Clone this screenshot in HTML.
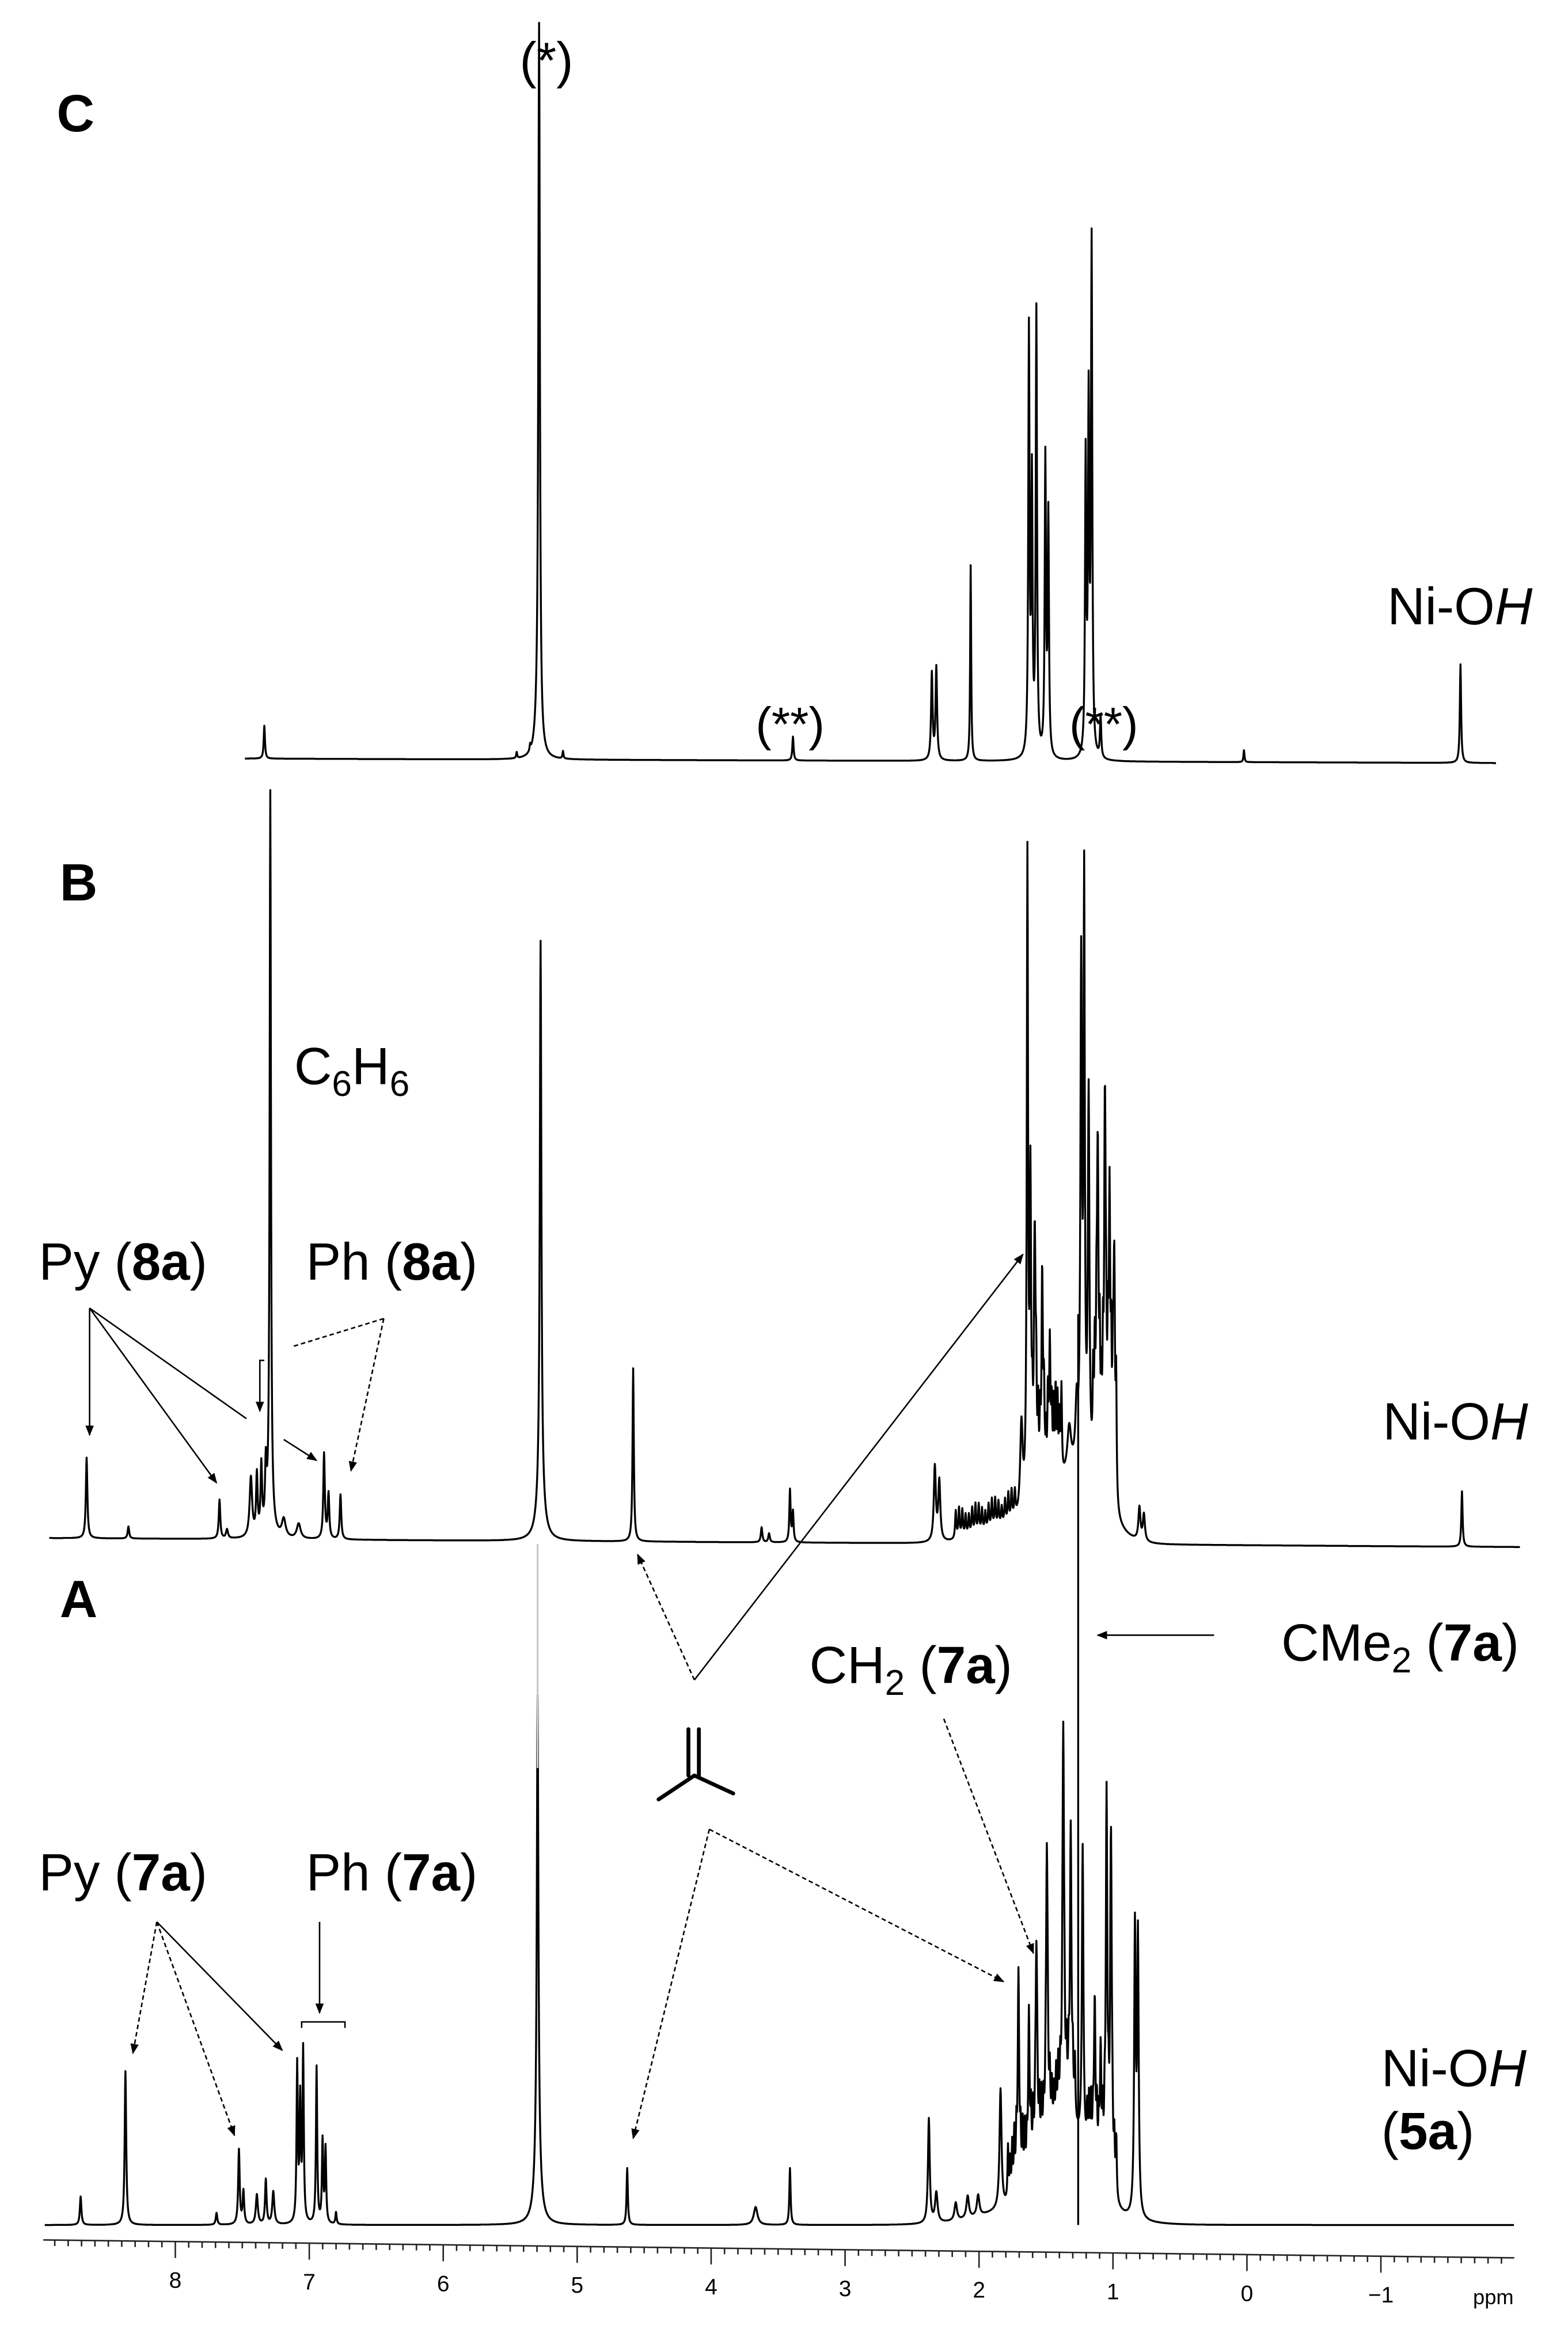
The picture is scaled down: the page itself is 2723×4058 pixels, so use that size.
<!DOCTYPE html>
<html><head><meta charset="utf-8">
<style>
html,body{margin:0;padding:0;background:#fff;}
svg{display:block;}
text{font-family:"Liberation Sans",Arial,sans-serif;fill:#000;}
</style></head>
<body>
<svg id="s" width="2723" height="4058" viewBox="0 0 1050 1565" preserveAspectRatio="none" xmlns="http://www.w3.org/2000/svg">
<defs>
<marker id="ar" viewBox="0 0 10 10" refX="9" refY="5" markerWidth="7" markerHeight="7" markerUnits="userSpaceOnUse" orient="auto">
<path d="M0,1 L10,5 L0,9 z" fill="#000"/></marker>
</defs>
<rect width="1050" height="1565" fill="#fff"/>
<g id="spec" fill="none" stroke="#000" stroke-width="1.3" stroke-linejoin="round"></g>

<line x1="360" y1="1184" x2="360" y2="1034" stroke="#c8c8c8" stroke-width="1.2"/>
<line x1="722" y1="1490" x2="722" y2="880" stroke="#000" stroke-width="1.3"/>

<g id="axis" stroke="#222" stroke-width="1"></g>

<g font-size="35">
<text x="38" y="88" font-weight="bold">C</text>
<text x="348" y="52" font-size="34">(*)</text>
<text x="506" y="496" font-size="32">(**)</text>
<text x="716" y="496" font-size="32">(**)</text>
<text x="929" y="418">Ni-O<tspan font-style="italic">H</tspan></text>

<text x="40" y="603" font-weight="bold">B</text>
<text x="197" y="726">C<tspan font-size="24" dy="8">6</tspan><tspan dy="-8">H</tspan><tspan font-size="24" dy="8">6</tspan></text>
<text x="26" y="857">Py (<tspan font-weight="bold">8a</tspan>)</text>
<text x="205" y="857">Ph (<tspan font-weight="bold">8a</tspan>)</text>
<text x="926" y="964">Ni-O<tspan font-style="italic">H</tspan></text>

<text x="40" y="1083" font-weight="bold">A</text>
<text x="858" y="1112">CMe<tspan font-size="24" dy="8">2</tspan><tspan dy="-8"> (</tspan><tspan font-weight="bold">7a</tspan>)</text>
<text x="542" y="1127">CH<tspan font-size="24" dy="8">2</tspan><tspan dy="-8"> (</tspan><tspan font-weight="bold">7a</tspan>)</text>
<text x="26" y="1266">Py (<tspan font-weight="bold">7a</tspan>)</text>
<text x="205" y="1266">Ph (<tspan font-weight="bold">7a</tspan>)</text>
<text x="925" y="1397">Ni-O<tspan font-style="italic">H</tspan></text>
<text x="925" y="1439">(<tspan font-weight="bold">5a</tspan>)</text>
</g>

<g stroke="#000" stroke-width="1" fill="none">
<line x1="60" y1="876" x2="60" y2="961" marker-end="url(#ar)"/>
<line x1="60" y1="876" x2="145" y2="993" marker-end="url(#ar)"/>
<line x1="60" y1="876" x2="165" y2="950"/>
<polyline points="177,911 174,911 174,945" marker-end="url(#ar)"/>
<line x1="257" y1="883" x2="195" y2="902" stroke-dasharray="3,2"/>
<line x1="257" y1="883" x2="235" y2="985" stroke-dasharray="3,2" marker-end="url(#ar)"/>
<line x1="190" y1="964" x2="212" y2="978" marker-end="url(#ar)"/>
<line x1="465" y1="1125" x2="427" y2="1041" stroke-dasharray="3,2" marker-end="url(#ar)"/>
<line x1="465" y1="1125" x2="685" y2="840" marker-end="url(#ar)"/>
<line x1="475" y1="1225" x2="424" y2="1432" stroke-dasharray="3,2" marker-end="url(#ar)"/>
<line x1="475" y1="1225" x2="672" y2="1327" stroke-dasharray="3,2" marker-end="url(#ar)"/>
<line x1="813" y1="1095" x2="735" y2="1095" marker-end="url(#ar)"/>
<line x1="632" y1="1151" x2="692" y2="1308" stroke-dasharray="3,2" marker-end="url(#ar)"/>
<line x1="105" y1="1287" x2="89" y2="1375" stroke-dasharray="3,2" marker-end="url(#ar)"/>
<line x1="105" y1="1287" x2="157" y2="1430" stroke-dasharray="3,2" marker-end="url(#ar)"/>
<line x1="105" y1="1287" x2="189" y2="1373" marker-end="url(#ar)"/>
<line x1="214" y1="1287" x2="214" y2="1348" marker-end="url(#ar)"/>
<polyline points="202,1358 202,1354 231,1354 231,1358"/>
</g>
<g stroke="#000" stroke-width="2.6" fill="none" stroke-linecap="round">
<line x1="461" y1="1158" x2="461" y2="1189"/>
<line x1="468" y1="1158" x2="468" y2="1189"/>
<polyline points="441,1205 465,1189 491,1201"/>
</g>
</svg>
<script>
(function(){
var NS="http://www.w3.org/2000/svg";
var g=document.getElementById('spec');
function spec(x0,x1,base,peaks){
  var d=[];
  for(var x=x0;x<=x1;x+=0.2){
    var y=base(x);
    for(var i=0;i<peaks.length;i++){
      var p=peaks[i],dx=x-p[0],w=p[2];
      y-=p[1]*w*w/(dx*dx+w*w);
    }
    d.push((d.length?'L':'M')+x.toFixed(1)+','+y.toFixed(1));
  }
  var e=document.createElementNS(NS,'path');e.setAttribute('d',d.join(''));g.appendChild(e);
}
function mult(arr,c0,c1,h,w,step){for(var c=c0;c<=c1;c+=step){arr.push([c,h*(0.6+0.4*Math.abs(Math.sin(c*1.7))),w]);}}
spec(164,1002,function(x){return 508+(x-164)*3/838;},[
[177,22,.5],[346,4,.4],[355,4,.4],[361,479,.6],[360,18,2],[377,5,.4],[531,16,.5],[624,58,.6],[627,62,.6],[650,131,.4],
[689,283,.5],[691,180,.5],[694,297,.5],[700,198,.5],[702,160,.5],[727,197,.5],[729,230,.5],[731,340,.5],[737,28,.5],[833,8,.4],[978,66,.5]]);
var Bp=[
[58,54,.6],[86,8,.6],[147,26,.6],[152,6,.8],[168,40,1],[172,40,.6],[175,45,.6],[178,40,.6],[181,479,.5],[181,20,2],[190,12,1.5],[200,10,1.5],
[217,57,.6],[220,30,.6],[228,30,.6],[362,367,.6],[362,35,2.5],[424,116,.5],[510,10,.6],[515,6,.6],[529,35,.5],[531,20,.5],
[626,50,.8],[629,40,.8],[684,60,1],
[688,430,.5],[690,150,.6],[693,140,.6],[698,90,.6],[703,40,1],[716,30,1.5],[721,40,1],[724,330,.6],[726,380,.5],[729,250,.6],
[735,170,.6],[740,200,.6],[743,140,.6],[746,110,.6],[763,22,.8],[766,18,.8],[979,37,.5]];
mult(Bp,640,680,20,.5,2.2);mult(Bp,690,712,60,.4,1.3);mult(Bp,732,748,80,.4,1.1);
spec(33,1018,function(x){var b=1030+(x-33)*6/985;b-=45*Math.exp(-Math.pow((x-720)/24,2));if(x>600&&x<700)b-=10*Math.exp(-Math.pow((x-680)/30,2));return b;},Bp);
var Ap=[
[54,19,.6],[84,103,.6],[145,8,.6],[160,50,.6],[163,22,.6],[172,20,.8],[178,30,.6],[183,22,.8],[199,105,.5],[201,80,.5],[203,115,.5],
[212,105,.5],[216,55,.5],[218,50,.5],[225,8,.5],[360,300,.6],[360,55,2],[420,38,.5],[506,12,1.5],[529,38,.5],[622,70,.7],[627,20,1],
[640,12,1],[648,15,1],[655,14,1],[670,80,.8],[682,120,.6],[689,80,.6],[694,135,.6],[701,185,.6],[712,250,.6],[717,170,.6],
[725,200,.6],[733,80,.6],[737,55,.6],[741,235,.6],[744,215,.6],[760,190,.6],[762,185,.6]];
mult(Ap,675,720,40,.4,1.4);mult(Ap,728,748,40,.4,1.3);
spec(30,1014,function(x){var b=1490;b-=15*Math.exp(-Math.pow((x-700)/45,2));b-=50*Math.exp(-Math.pow((x-715)/20,2));return b;},Ap);
var a=document.getElementById('axis');
function ay(x){return 1500+(x-29)*12/985;}
var L=document.createElementNS(NS,'line');
L.setAttribute('x1',29);L.setAttribute('y1',ay(29));L.setAttribute('x2',1014);L.setAttribute('y2',ay(1014));a.appendChild(L);
for(var k=-20;k<=90;k++){
  var p=k/10,x=835-89.7*p; if(x<29||x>1014)continue;
  var t=document.createElementNS(NS,'line');var len=(k%10===0)?11:4;
  t.setAttribute('x1',x);t.setAttribute('y1',ay(x));t.setAttribute('x2',x);t.setAttribute('y2',ay(x)+len);a.appendChild(t);
  if(k%10===0){
    var tx=document.createElementNS(NS,'text');tx.setAttribute('x',x);tx.setAttribute('y',ay(x)+31);
    tx.setAttribute('font-size','15');tx.setAttribute('text-anchor','middle');tx.setAttribute('fill','#333');tx.setAttribute('stroke','none');
    tx.textContent=(p<0?'\u22121':String(p));a.appendChild(tx);
  }
}
var pp=document.createElementNS(NS,'text');pp.setAttribute('x',1000);pp.setAttribute('y',1543);pp.setAttribute('font-size','14');
pp.setAttribute('text-anchor','middle');pp.setAttribute('fill','#333');pp.setAttribute('stroke','none');pp.textContent='ppm';a.appendChild(pp);
})();
</script>
</body></html>
